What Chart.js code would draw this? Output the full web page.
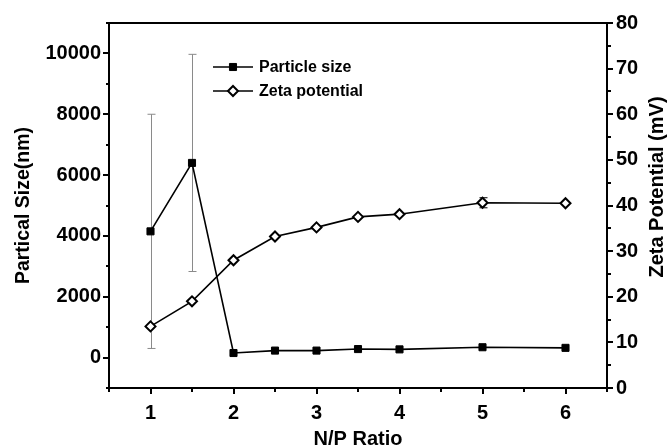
<!DOCTYPE html>
<html>
<head>
<meta charset="utf-8">
<script src="https://cdn.jsdelivr.net/npm/chart.js"></script>
<style>
    html, body { margin: 0; padding: 0; background: #fff; }
</style>
</head>
<body>
<canvas id="myChart" width="672" height="447"></canvas>
<script>
// data
const npRatio = [1, 1.5, 2, 2.5, 3, 3.5, 4, 5, 6];
const particleSize = [4150, 6400, 150, 230, 230, 280, 270, 340, 320];
const particleErr = [3850, 3570, 0, 0, 0, 0, 0, 0, 0];
const zetaPotential = [13.5, 19.0, 28.0, 33.2, 35.2, 37.5, 38.1, 40.6, 40.5];
const zetaErr = [0, 0, 0, 0, 0, 0, 0, 1.1, 0];
const sizeTicks = [0, 2000, 4000, 6000, 8000, 10000];
const zetaTicks = [0, 10, 20, 30, 40, 50, 60, 70, 80];
const ratioTicks = [1, 2, 3, 4, 5, 6];

Chart.defaults.font.family = "'Liberation Sans', Arial, sans-serif";
Chart.defaults.color = '#000';

const tickFont = {size: 20, weight: 'bold'};
const titleFont = {size: 19.5, weight: 'bold'};

// minor ticks: only draw the part next to the axis line
function axisGrid(majors, fromOuter) {
    return {
        drawOnChartArea: false,
        drawTicks: true,
        tickLength: 6,
        lineWidth: 2,
        color: '#000',
        tickBorderDash: (c) => majors.includes(c.tick && c.tick.value) ? [] : (fromOuter ? [0, 3, 3, 100] : [3, 100])
    };
}

// grey error bars under the markers
const errorBars = {
    id: 'errorBars',
    beforeDatasetsDraw(chart) {
        const ctx = chart.ctx;
        const xs = chart.scales.x;
        chart.data.datasets.forEach(ds => {
            if (!ds.errors) return;
            const ys = chart.scales[ds.yAxisID];
            ctx.save();
            ctx.strokeStyle = ds.errorColor;
            ctx.lineWidth = 1;
            ds.data.forEach((p, i) => {
                const e = ds.errors[i];
                if (!e) return;
                const px = Math.round(xs.getPixelForValue(p.x)) + 0.5;
                const top = ys.getPixelForValue(p.y + e);
                const bot = ys.getPixelForValue(p.y - e);
                ctx.beginPath();
                ctx.moveTo(px, top); ctx.lineTo(px, bot);
                ctx.moveTo(px - 4, top); ctx.lineTo(px + 4, top);
                ctx.moveTo(px - 4, bot); ctx.lineTo(px + 4, bot);
                ctx.stroke();
            });
            ctx.restore();
        });
    }
};

// top frame line, right axis title (reads bottom to top) and the legend inside the plot
const frameLegend = {
    id: 'frameLegend',
    afterDraw(chart) {
        const ctx = chart.ctx;
        const a = chart.chartArea;
        ctx.save();
        ctx.strokeStyle = '#000';
        ctx.lineWidth = 2;
        ctx.beginPath();
        ctx.moveTo(a.left - 1, a.top);
        ctx.lineTo(a.right + 1, a.top);
        ctx.stroke();

        ctx.save();
        ctx.translate(657, 187);
        ctx.rotate(-Math.PI / 2);
        ctx.font = "bold 20px 'Liberation Sans', Arial, sans-serif";
        ctx.fillStyle = '#000';
        ctx.textAlign = 'center';
        ctx.textBaseline = 'middle';
        ctx.fillText(chart.options.scales.y1.title.text, 0, 0);
        ctx.restore();

        ctx.font = "bold 16px 'Liberation Sans', Arial, sans-serif";
        ctx.textBaseline = 'middle';
        ctx.textAlign = 'left';
        chart.data.datasets.forEach((ds, i) => {
            const y = 67 + i * 24;
            ctx.strokeStyle = '#000';
            ctx.lineWidth = ds.borderWidth;
            ctx.beginPath();
            ctx.moveTo(213, y); ctx.lineTo(253, y);
            ctx.stroke();
            ctx.fillStyle = ds.pointBackgroundColor;
            ctx.lineWidth = ds.pointBorderWidth;
            Chart.helpers.drawPoint(ctx, {pointStyle: ds.pointStyle, radius: ds.pointRadius, rotation: 0, borderWidth: ds.pointBorderWidth}, 233, y);
            ctx.fillStyle = '#000';
            ctx.fillText(ds.label, 259, y + 1);
        });
        ctx.restore();
    }
};

const ctx = document.getElementById('myChart').getContext('2d');
const myChart = new Chart(ctx, {
    type: 'line',
    data: {
        datasets: [{
            label: 'Particle size',
            data: npRatio.map((x, i) => ({x: x, y: particleSize[i]})),
            errors: particleErr,
            errorColor: '#8a8a8a',
            yAxisID: 'y',
            borderColor: '#000',
            borderWidth: 1.6,
            pointStyle: 'rect',
            pointRadius: 5,
            pointBackgroundColor: '#000',
            pointBorderColor: '#000',
            pointBorderWidth: 1,
            tension: 0
        }, {
            label: 'Zeta potential',
            data: npRatio.map((x, i) => ({x: x, y: zetaPotential[i]})),
            errors: zetaErr,
            errorColor: '#000',
            yAxisID: 'y1',
            borderColor: '#000',
            borderWidth: 1.6,
            pointStyle: 'rectRot',
            pointRadius: 5,
            pointBackgroundColor: '#fff',
            pointBorderColor: '#000',
            pointBorderWidth: 2,
            tension: 0
        }]
    },
    options: {
        responsive: false,
        animation: false,
        devicePixelRatio: 1,
        layout: {padding: {top: 23, left: 0, right: 0, bottom: 0}},
        plugins: {
            legend: {display: false},
            tooltip: {enabled: false}
        },
        scales: {
            x: {
                type: 'linear',
                min: 0.5,
                max: 6.5,
                ticks: {
                    stepSize: 0.5,
                    autoSkip: false,
                    maxRotation: 0,
                    padding: 7,
                    font: tickFont,
                    callback: (v) => ratioTicks.includes(v) ? String(v) : ''
                },
                grid: axisGrid(ratioTicks, false),
                border: {display: true, color: '#000', width: 2},
                title: {display: true, text: 'N/P Ratio', font: {size: 20, weight: 'bold', lineHeight: 0.8}, padding: {top: 0, bottom: 0}},
                afterFit: (s) => { s.height = 59; }
            },
            y: {
                type: 'linear',
                position: 'left',
                min: -1000,
                max: 11000,
                ticks: {
                    stepSize: 1000,
                    autoSkip: false,
                    padding: 2,
                    font: tickFont,
                    callback: (v) => sizeTicks.includes(v) ? String(v) : ''
                },
                grid: axisGrid(sizeTicks, true),
                border: {display: true, color: '#000', width: 2},
                title: {display: true, text: 'Partical Size(nm)', font: titleFont, padding: {top: 12, bottom: 0}},
                afterFit: (s) => { s.width = 109; }
            },
            y1: {
                type: 'linear',
                position: 'right',
                min: 0,
                max: 80,
                ticks: {
                    stepSize: 5,
                    autoSkip: false,
                    padding: 3,
                    font: tickFont,
                    callback: (v) => zetaTicks.includes(v) ? String(v) : ''
                },
                grid: axisGrid(zetaTicks, false),
                border: {display: true, color: '#000', width: 2},
                // drawn by the plugin so it reads bottom to top
                title: {display: false, text: 'Zeta Potential (mV)'},
                afterFit: (s) => { s.width = 65; }
            }
        }
    },
    plugins: [errorBars, frameLegend]
});
</script>
</body>
</html>
